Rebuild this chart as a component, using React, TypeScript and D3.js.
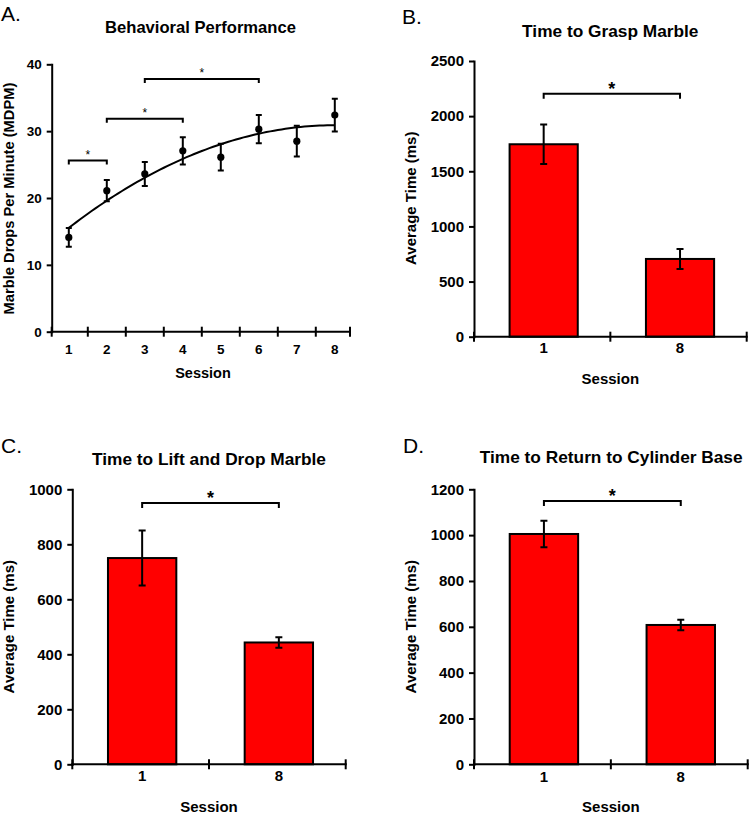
import React, { useEffect, useRef } from "react";
import * as d3 from "d3";

// ---------- Panel A data ----------
const sessions = [1, 2, 3, 4, 5, 6, 7, 8];
const mdpm = [14.1, 21.1, 23.6, 27.05, 26.1, 30.3, 28.5, 32.4];
const mdpmErr = [1.4, 1.6, 1.8, 2.05, 2.0, 2.1, 2.3, 2.45];
const sigFrom = [1, 2, 3];
const sigTo = [2, 4, 6];
const sigLevel = [25.6, 31.85, 37.8];
const yTicksA = [0, 10, 20, 30, 40];

// ---------- Bar panels data ----------
const barSessions = ["1", "8"];
const graspTime = [1745, 705];
const graspErr = [180, 90];
const liftTime = [750, 443];
const liftErr = [100, 19];
const returnTime = [1005, 608];
const returnErr = [58, 23];
const yTicksB = [0, 500, 1000, 1500, 2000, 2500];
const yTicksC = [0, 200, 400, 600, 800, 1000];
const yTicksD = [0, 200, 400, 600, 800, 1000, 1200];
const sigB = 2204;
const sigC = 950;
const sigD = 1149;

const FONT = "'Liberation Sans', Arial, Helvetica, sans-serif";

function quadFit(xs: number[], ys: number[]) {
  // least squares quadratic fit y = a + b x + c x^2
  const n = xs.length;
  let s0 = n, s1 = 0, s2 = 0, s3 = 0, s4 = 0, t0 = 0, t1 = 0, t2 = 0;
  xs.forEach((x, i) => {
    const y = ys[i];
    s1 += x; s2 += x * x; s3 += x ** 3; s4 += x ** 4;
    t0 += y; t1 += x * y; t2 += x * x * y;
  });
  const M = [
    [s0, s1, s2, t0],
    [s1, s2, s3, t1],
    [s2, s3, s4, t2],
  ];
  for (let i = 0; i < 3; i++) {
    for (let k = i + 1; k < 3; k++) {
      const f = M[k][i] / M[i][i];
      for (let j = i; j < 4; j++) M[k][j] -= f * M[i][j];
    }
  }
  const r = [0, 0, 0];
  for (let i = 2; i >= 0; i--) {
    let s = M[i][3];
    for (let j = i + 1; j < 3; j++) s -= M[i][j] * r[j];
    r[i] = s / M[i][i];
  }
  return (x: number) => r[0] + r[1] * x + r[2] * x * x;
}

type Sel = d3.Selection<SVGGElement, unknown, null, undefined>;

function drawYAxis(g: Sel, y: d3.ScaleLinear<number, number>, x0: number, ticks: number[], fs: number) {
  const ax = d3
    .axisLeft(y)
    .tickValues(ticks)
    .tickSize(5)
    .tickSizeOuter(0)
    .tickPadding(5)
    .tickFormat(d3.format("d"));
  const ga = g.append("g").attr("transform", `translate(${x0},0)`).call(ax);
  ga.select(".domain").attr("stroke", "#000").attr("stroke-width", 2).attr("stroke-linecap", "square");
  ga.selectAll(".tick line").attr("stroke", "#000").attr("stroke-width", 2);
  ga.selectAll(".tick text")
    .attr("font-family", FONT)
    .attr("font-size", fs)
    .attr("font-weight", "bold")
    .attr("fill", "#000");
}

function drawXBaseline(g: Sel, x0: number, x1: number, y0: number, tickXs: number[]) {
  g.append("line")
    .attr("x1", x0).attr("x2", x1).attr("y1", y0).attr("y2", y0)
    .attr("stroke", "#000").attr("stroke-width", 2).attr("stroke-linecap", "square");
  tickXs.forEach((tx) => {
    g.append("line")
      .attr("x1", tx).attr("x2", tx).attr("y1", y0 - 5).attr("y2", y0 + 5)
      .attr("stroke", "#000").attr("stroke-width", 2);
  });
}

function text(g: Sel, x: number, y: number, s: string, fs: number, bold = true, anchor = "middle", rotate = false) {
  const t = g.append("text")
    .attr("font-family", FONT)
    .attr("font-size", fs)
    .attr("font-weight", bold ? "bold" : "normal")
    .attr("text-anchor", anchor)
    .attr("fill", "#000")
    .text(s);
  if (rotate) t.attr("transform", `translate(${x},${y}) rotate(-90)`);
  else t.attr("x", x).attr("y", y);
  return t;
}

function bracket(g: Sel, xa: number, xb: number, yy: number, drop: number) {
  g.append("path")
    .attr("d", `M${xa},${yy + drop}V${yy}H${xb}V${yy + drop}`)
    .attr("fill", "none").attr("stroke", "#000").attr("stroke-width", 2);
}

interface BarCfg {
  title: string; letter: string; letterX: number; letterY: number;
  titleX: number; titleY: number;
  x0: number; x1: number; yBottom: number; yTop: number; yMax: number;
  ticks: number[]; values: number[]; errs: number[]; sig: number;
  ylabelX: number; ylabelY: number; tickLabelY: number; sessionY: number;
}

function drawBarPanel(svg: Sel, c: BarCfg) {
  const g = svg.append("g");
  const y = d3.scaleLinear().domain([0, c.yMax]).range([c.yBottom, c.yTop]);
  const x = d3.scaleBand().domain(barSessions).range([c.x0, c.x1]).paddingInner(0.5).paddingOuter(0.25);
  text(g, c.letterX, c.letterY, c.letter, 21, false, "start");
  text(g, c.titleX, c.titleY, c.title, 17.3, true);
  // bars
  barSessions.forEach((s, i) => {
    const bx = x(s)! + 1.5;
    g.append("rect")
      .attr("x", bx).attr("y", y(c.values[i]))
      .attr("width", x.bandwidth()).attr("height", y(0) - y(c.values[i]))
      .attr("fill", "#ff0000").attr("stroke", "#000").attr("stroke-width", 2);
  });
  // error bars
  barSessions.forEach((s, i) => {
    const cx = x(s)! + 1.5 + x.bandwidth() / 2;
    const hi = y(c.values[i] + c.errs[i]);
    const lo = y(c.values[i] - c.errs[i]);
    g.append("path")
      .attr("d", `M${cx},${hi}V${lo}M${cx - 3.5},${hi}H${cx + 3.5}M${cx - 3.5},${lo}H${cx + 3.5}`)
      .attr("stroke", "#000").attr("stroke-width", 2).attr("fill", "none");
  });
  // axes
  drawYAxis(g, y, c.x0, c.ticks, 15);
  const step = x.step();
  drawXBaseline(g, c.x0, c.x1, y(0), [c.x0, c.x0 + step, c.x1]);
  barSessions.forEach((s) => {
    text(g, x(s)! + 1.5 + x.bandwidth() / 2, c.tickLabelY, s, 15, true);
  });
  text(g, (c.x0 + c.x1) / 2, c.sessionY, "Session", 15, true);
  text(g, c.ylabelX, c.ylabelY, "Average Time (ms)", 15, true, "middle", true);
  // significance
  const xa = x(barSessions[0])! + 1.5 + x.bandwidth() / 2;
  const xb = x(barSessions[1])! + 1.5 + x.bandwidth() / 2;
  bracket(g, xa, xb, y(c.sig), 5);
  text(g, (xa + xb) / 2, y(c.sig) + 1, "*", 18, true);
}

export default function App() {
  const ref = useRef<SVGSVGElement>(null);
  useEffect(() => {
    const root = d3.select(ref.current!);
    root.selectAll("*").remove();
    const svg = root.append("g") as unknown as Sel;

    // ---------- Panel A ----------
    const gA = svg.append("g");
    const xA = d3.scaleLinear().domain([0.55, 8.4]).range([51.7, 350]);
    const yA = d3.scaleLinear().domain([0, 40]).range([331.7, 64.3]);
    text(gA, 1, 20.5, "A.", 21, false, "start");
    text(gA, 200.5, 33.3, "Behavioral Performance", 16.6, true);

    // fit curve
    const f = quadFit(sessions, mdpm);
    const curvePts = d3.range(0, 71).map((i) => 1 + (i * 7) / 70);
    gA.append("path")
      .datum(curvePts)
      .attr("d", d3.line<number>().x((d) => xA(d)).y((d) => yA(f(d)))!)
      .attr("fill", "none").attr("stroke", "#000").attr("stroke-width", 2);

    // error bars & points
    sessions.forEach((s, i) => {
      const cx = xA(s);
      const hi = yA(mdpm[i] + mdpmErr[i]);
      const lo = yA(mdpm[i] - mdpmErr[i]);
      gA.append("path")
        .attr("d", `M${cx},${hi}V${lo}M${cx - 3},${hi}H${cx + 3}M${cx - 3},${lo}H${cx + 3}`)
        .attr("stroke", "#000").attr("stroke-width", 2).attr("fill", "none");
      gA.append("circle").attr("cx", cx).attr("cy", yA(mdpm[i])).attr("r", 3.6).attr("fill", "#000");
    });

    drawYAxis(gA, yA, 51.7, yTicksA, 13.5);
    const boundaries = [0.55, 1.5, 2.5, 3.5, 4.5, 5.5, 6.5, 7.5, 8.4];
    drawXBaseline(gA, 51.7, 350, yA(0), boundaries.map((b) => xA(b)));
    sessions.forEach((s) => text(gA, xA(s), 354, String(s), 13.5, true));
    text(gA, 203, 378, "Session", 14.5, true);
    text(gA, 14, 198.5, "Marble Drops Per Minute (MDPM)", 14.7, true, "middle", true);

    sigFrom.forEach((a, i) => {
      const xa = xA(a);
      const xb = xA(sigTo[i]);
      const yy = yA(sigLevel[i]);
      bracket(gA, xa, xb, yy, 4);
      text(gA, (xa + xb) / 2, yy - 2, "*", 12, false);
    });

    // ---------- Panel B ----------
    drawBarPanel(svg, {
      title: "Time to Grasp Marble", letter: "B.", letterX: 402, letterY: 24,
      titleX: 610.3, titleY: 36.5,
      x0: 474, x1: 746.7, yBottom: 336.7, yTop: 61, yMax: 2500,
      ticks: yTicksB, values: graspTime, errs: graspErr, sig: sigB,
      ylabelX: 415.5, ylabelY: 198.3, tickLabelY: 353.3, sessionY: 384,
    });
    // ---------- Panel C ----------
    drawBarPanel(svg, {
      title: "Time to Lift and Drop Marble", letter: "C.", letterX: 1, letterY: 452.7,
      titleX: 209, titleY: 465,
      x0: 72.3, x1: 345.7, yBottom: 764.3, yTop: 489.3, yMax: 1000,
      ticks: yTicksC, values: liftTime, errs: liftErr, sig: sigC,
      ylabelX: 14, ylabelY: 626.7, tickLabelY: 781, sessionY: 811.5,
    });
    // ---------- Panel D ----------
    drawBarPanel(svg, {
      title: "Time to Return to Cylinder Base", letter: "D.", letterX: 403, letterY: 452.7,
      titleX: 611.2, titleY: 462.7,
      x0: 474, x1: 747.7, yBottom: 764.3, yTop: 489.3, yMax: 1200,
      ticks: yTicksD, values: returnTime, errs: returnErr, sig: sigD,
      ylabelX: 415.5, ylabelY: 626.7, tickLabelY: 781.5, sessionY: 812,
    });
  }, []);
  return (
    <svg
      ref={ref}
      width={750}
      height={814}
      style={{ position: "absolute", left: 0, top: 0, display: "block", background: "#fff" }}
    />
  );
}
